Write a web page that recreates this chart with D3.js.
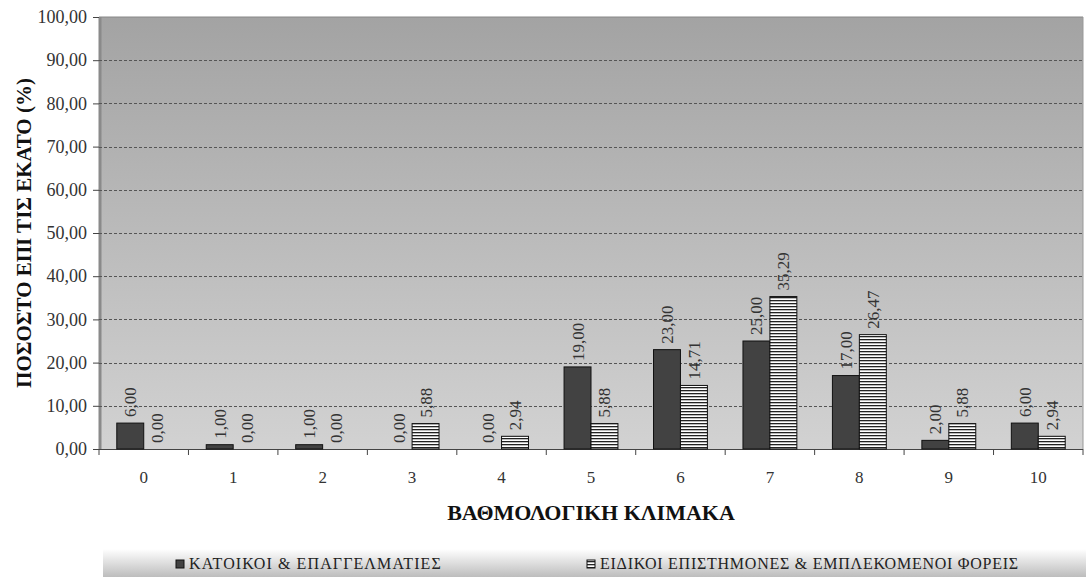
<!DOCTYPE html>
<html><head><meta charset="utf-8">
<script src="https://cdn.jsdelivr.net/npm/d3@7"></script>
<style>body{margin:0;background:#fff}svg{display:block}
svg text{font-family:"Liberation Serif","Times New Roman",Times,"DejaVu Serif",serif}</style>
</head><body>
<svg id="chart" width="1086" height="577"></svg>
<script>
const categories = ["0","1","2","3","4","5","6","7","8","9","10"];
const residents = [6.00,1.00,1.00,0.00,0.00,19.00,23.00,25.00,17.00,2.00,6.00];
const experts = [0.00,0.00,0.00,5.88,2.94,5.88,14.71,35.29,26.47,5.88,2.94];
const seriesNames = ["ΚΑΤΟΙΚΟΙ & ΕΠΑΓΓΕΛΜΑΤΙΕΣ","ΕΙΔΙΚΟΙ ΕΠΙΣΤΗΜΟΝΕΣ & ΕΜΠΛΕΚΟΜΕΝΟΙ ΦΟΡΕΙΣ"];
const yTicks = [0,10,20,30,40,50,60,70,80,90,100];
const yTitle = "ΠΟΣΟΣΤΟ ΕΠΙ ΤΙΣ ΕΚΑΤΟ (%)";
const xTitle = "ΒΑΘΜΟΛΟΓΙΚΗ ΚΛΙΜΑΚΑ";

const svg = d3.select("#chart");
const L = 99, R = 1083, T = 17, B = 449;
const fmt = v => v.toFixed(2).replace(".", ",");

const defs = svg.append("defs");
const bg = defs.append("linearGradient").attr("id","bg").attr("x1",0).attr("y1",0).attr("x2",0).attr("y2",1);
bg.append("stop").attr("offset","0%").attr("stop-color","#a3a3a3");
bg.append("stop").attr("offset","100%").attr("stop-color","#d2d2d2");
const lg = defs.append("linearGradient").attr("id","lg").attr("x1",0).attr("y1",0).attr("x2",0).attr("y2",1);
lg.append("stop").attr("offset","0%").attr("stop-color","#ffffff");
lg.append("stop").attr("offset","100%").attr("stop-color","#bdbdbd");
const pat = defs.append("pattern").attr("id","stripes").attr("patternUnits","userSpaceOnUse")
  .attr("width",6).attr("height",3);
pat.append("rect").attr("width",6).attr("height",3).attr("fill","#ffffff");
pat.append("rect").attr("y",0).attr("width",6).attr("height",1.3).attr("fill","#222");

const x0 = d3.scaleBand().domain(categories).range([L, R]).paddingInner(0).paddingOuter(0);
const x1 = d3.scaleBand().domain([0,1]).range([0, x0.bandwidth()]).paddingInner(0).paddingOuter(0.66);
const y = d3.scaleLinear().domain([0,100]).range([B, T]);

// plot background
svg.append("rect").attr("x",L).attr("y",T).attr("width",R-L).attr("height",B-T).attr("fill","url(#bg)");
svg.append("line").attr("x1",L).attr("x2",R).attr("y1",T).attr("y2",T).attr("stroke","#888").attr("stroke-width",1);
svg.append("line").attr("x1",L+1).attr("x2",L+1).attr("y1",T).attr("y2",B).attr("stroke","#8a8a8a").attr("stroke-width",3);
svg.append("line").attr("x1",R).attr("x2",R).attr("y1",T).attr("y2",B).attr("stroke","#999").attr("stroke-width",1);

// gridlines
svg.append("g").selectAll("line").data(yTicks.filter(t => t > 0 && t < 100)).join("line")
  .attr("x1",L).attr("x2",R).attr("y1",d=>Math.round(y(d))+0.5).attr("y2",d=>Math.round(y(d))+0.5)
  .attr("stroke","#555").attr("stroke-width",1).attr("stroke-dasharray","3,2");

// y axis
const yAxis = svg.append("g").attr("transform",`translate(${L},0)`)
  .call(d3.axisLeft(y).tickValues(yTicks).tickFormat(fmt).tickSize(6).tickPadding(6));
yAxis.attr("font-family",null).attr("font-size",null);
yAxis.select(".domain").remove();
yAxis.selectAll("line").attr("stroke","#444");
yAxis.selectAll("text").attr("font-size",18).attr("fill","#333");

// x axis
const xAxis = svg.append("g").attr("transform",`translate(0,${B})`);
xAxis.append("line").attr("x1",L).attr("x2",R).attr("y1",0.5).attr("y2",0.5).attr("stroke","#444");
xAxis.selectAll("line.tk").data(d3.range(categories.length+1)).join("line").attr("class","tk")
  .attr("x1",i=>L + i*x0.step()).attr("x2",i=>L + i*x0.step()).attr("y1",0).attr("y2",6).attr("stroke","#444");
xAxis.selectAll("text").data(categories).join("text")
  .attr("x",d=>x0(d)+x0.bandwidth()/2).attr("y",34).attr("text-anchor","middle")
  .attr("font-size",17).attr("fill","#333").text(d=>d);

// bars
const series = [residents, experts];
const fills = ["#424242","url(#stripes)"];
series.forEach((vals, si) => {
  const g = svg.append("g");
  g.selectAll("rect").data(vals).join("rect")
    .attr("x",(d,i)=>x0(categories[i])+x1(si))
    .attr("y",d=>y(d))
    .attr("width",x1.bandwidth())
    .attr("height",d=>B-y(d))
    .attr("fill",fills[si]).attr("stroke","#111").attr("stroke-width",1)
    .attr("display",d=>d>0?null:"none");
  g.selectAll("text").data(vals).join("text")
    .attr("transform",(d,i)=>{
      const cx = x0(categories[i])+x1(si)+x1.bandwidth()/2 + 6;
      return `translate(${cx},${y(d)-6}) rotate(-90)`;
    })
    .attr("font-size",17).attr("fill","#333").text(d=>fmt(d));
});

// axis titles
svg.append("text").attr("transform",`translate(31,${(T+B)/2}) rotate(-90)`).attr("text-anchor","middle")
  .attr("font-size",21).attr("font-weight","bold").attr("fill","#111").text(yTitle);
svg.append("text").attr("x",(L+R)/2).attr("y",520).attr("text-anchor","middle")
  .attr("font-size",22).attr("font-weight","bold").attr("fill","#111").text(xTitle);

// legend
svg.append("rect").attr("x",103).attr("y",549).attr("width",983).attr("height",28).attr("fill","url(#lg)");
const leg = [{x:176, name:seriesNames[0], fill:fills[0], ls:1.1},{x:587, name:seriesNames[1], fill:fills[1], ls:0.75}];
const lgG = svg.append("g").selectAll("g").data(leg).join("g");
lgG.append("rect").attr("x",d=>d.x).attr("y",560).attr("width",8).attr("height",8)
  .attr("fill",d=>d.fill).attr("stroke","#111");
lgG.append("text").attr("x",d=>d.x+13).attr("y",569).attr("font-size",16).attr("letter-spacing",d=>d.ls)
  .attr("fill","#222").text(d=>d.name);
</script>
</body></html>
